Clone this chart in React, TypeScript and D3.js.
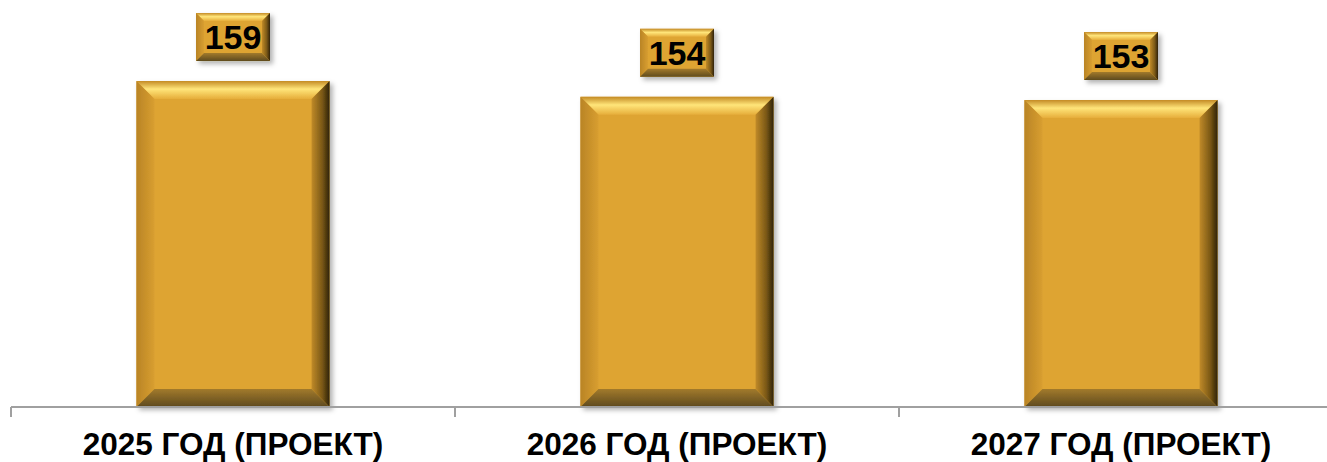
import React from "react";
import * as d3 from "d3";

const categories = ["2025 ГОД (ПРОЕКТ)", "2026 ГОД (ПРОЕКТ)", "2027 ГОД (ПРОЕКТ)"];
const values = [159, 154, 153];

const W = 1327;
const H = 462;

export default function App() {
  const x = d3.scaleBand<string>().domain(categories).range([11, 11 + 444 * 3]).padding(0);
  const y = d3.scaleLinear().domain([56, 160]).range([407, 407 - 104 * 3.165]);
  const step = x.step();
  const barW = step * 0.435;
  const b = 18; // bevel
  const lb = 8; // label bevel
  const boxW = 74;
  const boxH = 48;

  const bevelShape = (x0: number, y0: number, w: number, h: number, bv: number, key: string, idp: string) => {
    const x1 = x0 + w;
    const y1 = y0 + h;
    return (
      <g key={key} filter="url(#shadow)">
        <rect x={x0} y={y0} width={w} height={h} fill="#DEA433" />
        <polygon points={`${x0},${y0} ${x1},${y0} ${x1 - bv},${y0 + bv} ${x0 + bv},${y0 + bv}`} fill={`url(#${idp}top)`} />
        <polygon points={`${x0},${y0} ${x0 + bv},${y0 + bv} ${x0 + bv},${y1 - bv} ${x0},${y1}`} fill={`url(#${idp}left)`} />
        <polygon points={`${x1},${y0} ${x1},${y1} ${x1 - bv},${y1 - bv} ${x1 - bv},${y0 + bv}`} fill={`url(#${idp}right)`} />
        <polygon points={`${x0},${y1} ${x0 + bv},${y1 - bv} ${x1 - bv},${y1 - bv} ${x1},${y1}`} fill={`url(#${idp}bottom)`} />
      </g>
    );
  };

  const grads = (idp: string) => (
    <>
      <linearGradient id={`${idp}top`} x1="0" y1="0" x2="0" y2="1">
        <stop offset="0" stopColor="#C48B25" />
        <stop offset="0.45" stopColor="#FFE57A" />
        <stop offset="1" stopColor="#E6AD3A" />
      </linearGradient>
      <linearGradient id={`${idp}left`} x1="0" y1="0" x2="1" y2="0">
        <stop offset="0" stopColor="#B98426" />
        <stop offset="1" stopColor="#D89E30" />
      </linearGradient>
      <linearGradient id={`${idp}right`} x1="0" y1="0" x2="1" y2="0">
        <stop offset="0" stopColor="#C08A28" />
        <stop offset="0.6" stopColor="#7A5816" />
        <stop offset="1" stopColor="#2E2106" />
      </linearGradient>
      <linearGradient id={`${idp}bottom`} x1="0" y1="0" x2="0" y2="1">
        <stop offset="0" stopColor="#A27A2C" />
        <stop offset="1" stopColor="#5E4A1E" />
      </linearGradient>
    </>
  );

  return (
    <svg width={W} height={H} style={{ position: "absolute", left: 0, top: 0 }}>
      <defs>
        <filter id="shadow" x="-10%" y="-10%" width="130%" height="130%">
          <feDropShadow dx="3" dy="3" stdDeviation="2.5" floodColor="#000" floodOpacity="0.3" />
        </filter>
        {grads("b")}
        {grads("l")}
      </defs>
      <rect width={W} height={H} fill="#fff" />
      {categories.map((c, i) => {
        const cx = (x(c) as number) + step / 2;
        const top = y(values[i]);
        return bevelShape(cx - barW / 2, top, barW, 407 - top, b, "bar" + i, "b");
      })}
      {/* axis */}
      <line x1={11} x2={W} y1={407} y2={407} stroke="#A0A0A0" strokeWidth={2} />
      {categories.map((c, i) => (
        <line key={"t" + i} x1={x(c) as number} x2={x(c) as number} y1={407} y2={417} stroke="#A0A0A0" strokeWidth={2} />
      ))}
      {categories.map((c, i) => {
        const cx = (x(c) as number) + step / 2;
        return (
          <text key={"xl" + i} x={cx} y={455} textAnchor="middle" fontFamily="Liberation Sans, Arial, sans-serif" fontWeight="bold" fontSize={31.5} fill="#000">
            {c}
          </text>
        );
      })}
      {categories.map((c, i) => {
        const cx = (x(c) as number) + step / 2;
        const top = y(values[i]);
        const by = top - 20 - boxH;
        return (
          <g key={"lb" + i}>
            {bevelShape(cx - boxW / 2, by, boxW, boxH, lb, "box" + i, "l")}
            <text x={cx} y={by + boxH / 2 + 12} textAnchor="middle" fontFamily="Liberation Sans, Arial, sans-serif" fontWeight="bold" fontSize={34} fill="#000">
              {values[i]}
            </text>
          </g>
        );
      })}
    </svg>
  );
}
